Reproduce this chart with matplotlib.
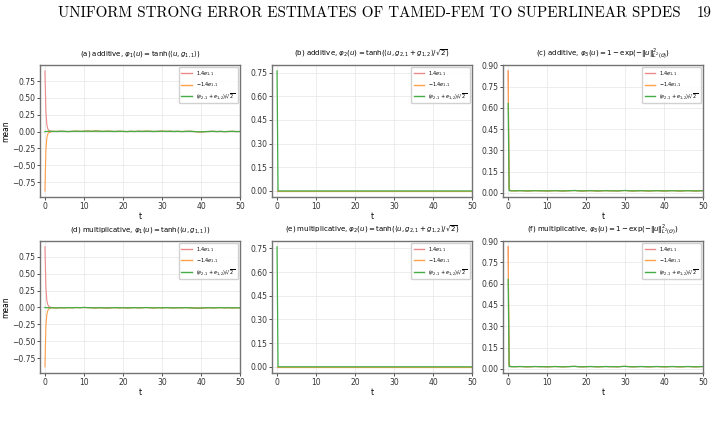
import matplotlib.pyplot as plt
import numpy as np

# time grid: fine start, then one point per unit
t = [0, 0.25, 0.5, 0.75, 1.0, 1.5] + list(range(2, 51))

# long-time fluctuations (t = 2..50)
tail_a = [0.004, 0.002, 0.005, 0.003, 0.001, 0.004, 0.006, 0.003, 0.005, 0.007,
          0.004, 0.008, 0.005, 0.003, 0.006, 0.004, 0.002, 0.005, 0.003, 0.001,
          0.004, 0.002, 0.005, 0.003, 0.006, 0.004, 0.002, 0.004, 0.006, 0.003,
          0.005, 0.002, 0.004, 0.001, 0.003, 0.005, 0.002, -0.002, -0.004, 0.000,
          0.002, 0.004, 0.001, 0.003, 0.000, 0.002, 0.004, 0.001, 0.002]
tail_d = [-0.004, -0.006, -0.003, -0.005, -0.002, -0.004, -0.001, -0.003, 0.000, -0.002,
          -0.004, -0.006, -0.003, -0.005, -0.007, -0.004, -0.002, -0.005, -0.003, -0.006,
          -0.004, -0.002, -0.005, -0.003, -0.001, -0.004, -0.006, -0.003, -0.005, -0.002,
          -0.004, -0.006, -0.003, -0.005, -0.002, -0.004, -0.007, -0.010, -0.008, -0.005,
          -0.003, -0.006, -0.004, -0.002, -0.005, -0.003, -0.006, -0.004, -0.005]
tail_b = [0.0] * 49
tail_c = [0.015, 0.016, 0.015, 0.014, 0.015, 0.016, 0.015, 0.015, 0.014, 0.015,
          0.016, 0.015, 0.014, 0.015, 0.016, 0.017, 0.015, 0.014, 0.015, 0.016,
          0.015, 0.014, 0.015, 0.016, 0.015, 0.015, 0.014, 0.016, 0.017, 0.015,
          0.014, 0.015, 0.016, 0.015, 0.014, 0.015, 0.016, 0.015, 0.014, 0.015,
          0.016, 0.015, 0.014, 0.015, 0.016, 0.015, 0.014, 0.015, 0.016]

# first six time points of each run
head = {
    "a": ([0.90, 0.30, 0.10, 0.04, 0.02, 0.008],
          [-0.88, -0.28, -0.09, -0.035, -0.015, -0.005],
          [0.0, 0.002, 0.003, 0.004, 0.004, 0.003]),
    "b": ([0.0, 0.0, 0.0, 0.0, 0.0, 0.0],
          [0.0, 0.0, 0.0, 0.0, 0.0, 0.0],
          [0.76, 0.0, 0.0, 0.0, 0.0, 0.0]),
    "c": ([0.86, 0.03, 0.018, 0.016, 0.015, 0.015],
          [0.86, 0.03, 0.018, 0.016, 0.015, 0.015],
          [0.63, 0.016, 0.015, 0.015, 0.015, 0.015]),
    "d": ([0.90, 0.30, 0.10, 0.04, 0.015, 0.003],
          [-0.88, -0.28, -0.10, -0.045, -0.02, -0.008],
          [0.0, -0.002, -0.003, -0.004, -0.004, -0.004]),
    "e": ([0.0, 0.0, 0.0, 0.0, 0.0, 0.0],
          [0.0, 0.0, 0.0, 0.0, 0.0, 0.0],
          [0.76, 0.0, 0.0, 0.0, 0.0, 0.0]),
    "f": ([0.86, 0.03, 0.018, 0.016, 0.015, 0.015],
          [0.86, 0.03, 0.018, 0.016, 0.015, 0.015],
          [0.63, 0.016, 0.015, 0.015, 0.015, 0.015]),
}
tails = {"a": tail_a, "b": tail_b, "c": tail_c, "d": tail_d, "e": tail_b, "f": tail_c}

titles = {
    "a": r"(a) additive, $\varphi_1(u) = \tanh(\langle u, g_{1,1}\rangle)$",
    "b": r"(b) additive, $\varphi_2(u) = \tanh(\langle u, g_{2,1}+g_{1,2}\rangle/\sqrt{2})$",
    "c": r"(c) additive, $\varphi_3(u) = 1 - \exp(-\|u\|^2_{L^2(\mathcal{O})})$",
    "d": r"(d) multiplicative, $\varphi_1(u) = \tanh(\langle u, g_{1,1}\rangle)$",
    "e": r"(e) multiplicative, $\varphi_2(u) = \tanh(\langle u, g_{2,1}+g_{1,2}\rangle/\sqrt{2})$",
    "f": r"(f) multiplicative, $\varphi_3(u) = 1 - \exp(-\|u\|^2_{L^2(\mathcal{O})})$",
}
labels = [r"$1.4e_{1,1}$", r"$-1.4e_{1,1}$", r"$(e_{2,1}+e_{1,2})/\sqrt{2}$"]
colors = ["#ee8a8a", "#ffa04a", "#45ad45"]
widths = [0.8, 0.8, 0.9]

yticks = {"a": None, "b": np.arange(0, 0.76, 0.15), "c": np.arange(0, 0.91, 0.15)}
yticks["d"] = yticks["a"]
yticks["e"] = yticks["b"]
yticks["f"] = yticks["c"]

fig = plt.figure(figsize=(7.2, 4.3), dpi=100)
fig.text(0.08, 0.969, "UNIFORM STRONG ERROR ESTIMATES OF TAMED-FEM TO SUPERLINEAR SPDES",
         family="cmr10", fontsize=10.8, ha="left", va="center")
fig.text(0.988, 0.969, "19", family="cmr10", fontsize=10.8, ha="right", va="center")

lefts = [0.0556, 0.378, 0.699]
bottoms = [0.542, 0.133]
keys = [["a", "b", "c"], ["d", "e", "f"]]

for r in range(2):
    for c in range(3):
        k = keys[r][c]
        ax = fig.add_axes([lefts[c], bottoms[r], 0.278, 0.307])
        for i in range(3):
            y = head[k][i] + tails[k]
            ax.plot(t, y, color=colors[i], lw=widths[i], label=labels[i])
        ax.set_xlim(-1.25, 50)
        ax.set_xticks([0, 10, 20, 30, 40, 50])
        if yticks[k] is not None:
            ax.set_yticks(yticks[k])
        ax.set_title(titles[k], fontsize=5, pad=6.5)
        ax.set_xlabel("t", fontsize=5.5, labelpad=1)
        if c == 0:
            ax.set_ylabel("mean", fontsize=5.5, labelpad=1)
        ax.tick_params(labelsize=5.5, length=2, width=0.6, pad=1.5, colors="0.2")
        ax.grid(True, color="0.9", lw=0.5)
        for s in ax.spines.values():
            s.set_color("0.45")
            s.set_linewidth(1.0)
        leg = ax.legend(loc="upper right", fontsize=3.5, framealpha=0.9, edgecolor="0.8",
                        handlelength=2.2, borderpad=0.5, labelspacing=0.6)
        for line in leg.get_lines():
            line.set_linewidth(1.0)

fig.savefig("out.png", dpi=100)
